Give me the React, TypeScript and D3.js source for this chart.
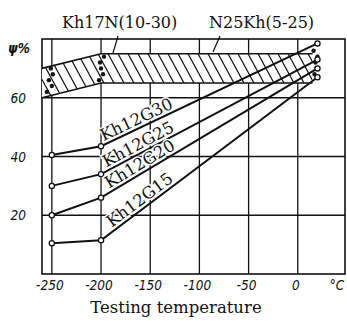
import React from 'react';
import * as d3 from 'd3';

// temperatures and reduction of area (psi %) for the Kh12G steels
const temps = [-250, -200, 20];
const kh12g30 = [40.5, 43.5, 78.5];
const kh12g25 = [30, 34, 73];
const kh12g20 = [20, 26, 70];
const kh12g15 = [10.5, 11.5, 67];
const seriesNames = ['Kh12G30', 'Kh12G25', 'Kh12G20', 'Kh12G15'];

// hatched scatter band for Kh17N / N25Kh
const bandTemps = [-260, -200, 15];
const bandUpper = [70, 75, 75];
const bandLower = [60, 65, 65];

// scattered test points inside the band
const dotTemps = [-255, -250, -253, -249, -251, -202, -198, -200, -201, -197, 17, 19, 18, 20, 16];
const dotValues = [62, 64, 66, 68, 70, 66, 68, 70, 72, 74, 68, 70, 72, 74, 76];

const xTicks = [-250, -200, -150, -100, -50, 0];
const yTicks = [20, 40, 60];

const App = () => {
  const width = 347;
  const height = 321;
  const x = d3.scaleLinear().domain([-260, 48]).range([42, 345]);
  const y = d3.scaleLinear().domain([0, 80]).range([274, 39]);

  const series = [kh12g30, kh12g25, kh12g20, kh12g15];
  const line = d3.line<number>().x((d, i) => x(temps[i])).y((d) => y(d));

  const bandPts = bandTemps.map((t, i) => ({ t, hi: bandUpper[i], lo: bandLower[i] }));
  const area = d3
    .area<{ t: number; hi: number; lo: number }>()
    .x((d) => x(d.t))
    .y0((d) => y(d.lo))
    .y1((d) => y(d.hi));
  const bandTop = d3.line<{ t: number; hi: number }>().x((d) => x(d.t)).y((d) => y(d.hi));
  const bandBot = d3.line<{ t: number; lo: number }>().x((d) => x(d.t)).y((d) => y(d.lo));

  const hatch = d3.range(0, 330, 10);
  const tickFont = { fontFamily: 'DejaVu Sans', fontStyle: 'italic', fontStretch: 'condensed' } as const;

  return (
    <svg width={width} height={height} style={{ position: 'absolute', left: 0, top: 0, background: '#fff' }}>
      <defs>
        <clipPath id="band">
          <path d={area(bandPts) || ''} />
        </clipPath>
      </defs>

      {/* grid */}
      <g stroke="#111" strokeWidth={1.3}>
        {xTicks.map((t) => (
          <line key={t} x1={x(t)} x2={x(t)} y1={y(80)} y2={y(0)} />
        ))}
        {yTicks.map((t) => (
          <line key={t} x1={x(-260)} x2={x(48)} y1={y(t)} y2={y(t)} />
        ))}
        <rect x={x(-260)} y={y(80)} width={x(48) - x(-260)} height={y(0) - y(80)} fill="none" strokeWidth={1.6} />
      </g>

      {/* band */}
      <rect x={x(-260)} y={y(75)} width={x(15) - x(-260)} height={y(60) - y(75)} fill="#fff" clipPath="url(#band)" />
      <g clipPath="url(#band)" stroke="#111" strokeWidth={1.2}>
        {hatch.map((h) => (
          <line key={h} x1={h} y1={y(80)} x2={h + 40} y2={y(55)} />
        ))}
      </g>
      <path d={bandTop(bandPts) || ''} fill="none" stroke="#111" strokeWidth={1.6} />
      <path d={bandBot(bandPts) || ''} fill="none" stroke="#111" strokeWidth={1.6} />
      <g fill="#111">
        {dotTemps.map((t, i) => (
          <circle key={i} cx={x(t)} cy={y(dotValues[i])} r={2.2} />
        ))}
      </g>

      {/* curves */}
      {series.map((s, k) => (
        <path key={k} d={line(s) || ''} fill="none" stroke="#111" strokeWidth={2} />
      ))}
      {series.map((s, k) =>
        s.map((v, i) => (
          <circle key={`${k}-${i}`} cx={x(temps[i])} cy={y(v)} r={2.6} fill="#fff" stroke="#111" strokeWidth={1.3} />
        ))
      )}

      {/* curve labels along the lines */}
      {series.map((s, k) => {
        const t0 = -196 + k * 3;
        const v0 = s[1] + ((s[2] - s[1]) * (t0 - temps[1])) / (temps[2] - temps[1]);
        const ang = (Math.atan2(y(s[2]) - y(s[1]), x(temps[2]) - x(temps[1])) * 180) / Math.PI;
        return (
          <text
            key={k}
            transform={`translate(${x(t0)},${y(v0)}) rotate(${ang})`}
            dy={-3.5}
            fontFamily="DejaVu Serif"
            fontSize={16.5}
            fill="#111"
            stroke="#fff"
            strokeWidth={3}
            paintOrder="stroke"
          >
            {seriesNames[k]}
          </text>
        );
      })}

      {/* band labels and leaders */}
      <g fontFamily="DejaVu Serif" fontSize={16} fill="#111">
        <text x={62} y={28}>Kh17N(10-30)</text>
        <text x={209} y={28}>N25Kh(5-25)</text>
      </g>
      <g stroke="#111" strokeWidth={1.2}>
        <line x1={118} y1={36} x2={113} y2={53} />
        <line x1={220} y1={36} x2={213} y2={52} />
      </g>

      {/* axis labels */}
      <g {...tickFont} fontSize={13.5} fill="#111">
        {yTicks.map((t) => (
          <text key={t} x={26} y={y(t) + 5} textAnchor="end">
            {t}
          </text>
        ))}
        <text x={8} y={53} fontWeight="bold">ψ%</text>
        {xTicks.map((t) => (
          <text key={t} x={x(t) - 2} y={290} textAnchor="middle">
            {t === 0 ? '0' : `-${Math.abs(t)}`}
          </text>
        ))}
        <text x={337} y={290} textAnchor="middle">°C</text>
      </g>
      <text x={176} y={313} textAnchor="middle" fontFamily="DejaVu Serif" fontSize={16.5} fill="#111">
        Testing temperature
      </text>
    </svg>
  );
};

export default App;
